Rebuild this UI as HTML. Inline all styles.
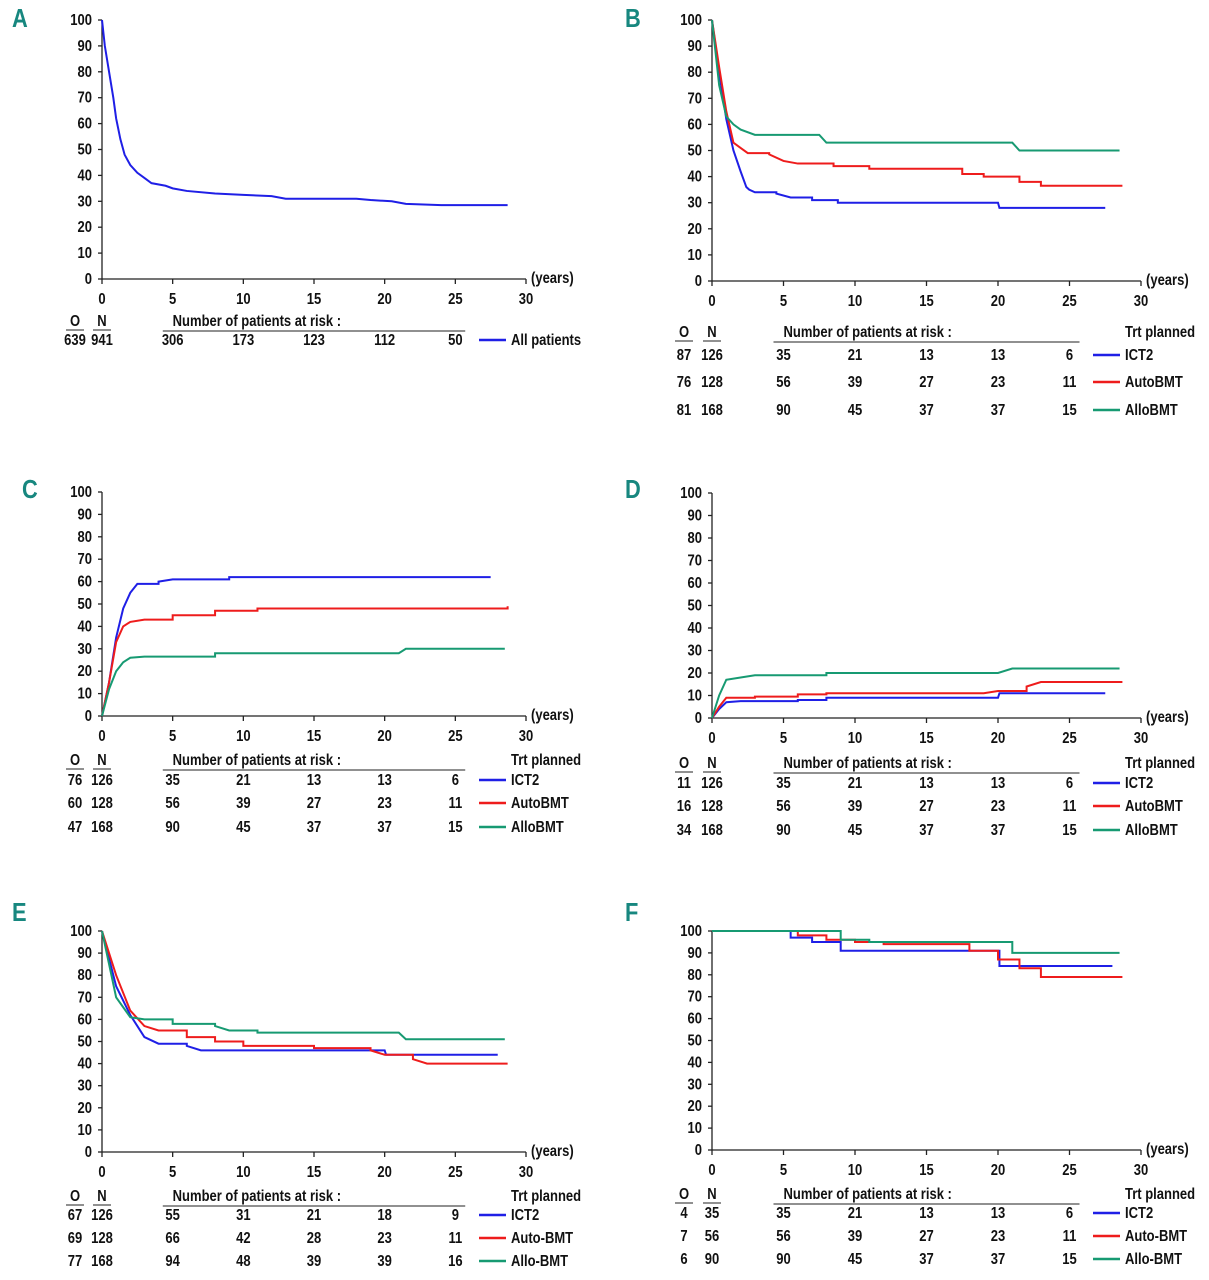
<!DOCTYPE html>
<html><head><meta charset="utf-8">
<style>
html,body{margin:0;padding:0;background:#fff;}
svg{display:block;font-family:"Liberation Sans Narrow","Liberation Sans",sans-serif;font-weight:bold;}
</style></head>
<body>
<svg id="fig" width="1209" height="1280" viewBox="0 0 1209 1280" xmlns="http://www.w3.org/2000/svg"></svg>
<script>
// ---- data ----
const xTicks = [0,5,10,15,20,25,30];
const yTicks = [0,10,20,30,40,50,60,70,80,90,100];
const riskYears = [5,10,15,20,25];
const groupNames = ["ICT2","AutoBMT","AlloBMT"];
const groupNamesE = ["ICT2","Auto-BMT","Allo-BMT"];

const seriesA_all = [[0,100],[0.2,90],[0.5,80],[0.8,70],[1,62],[1.3,54],[1.6,48],[2,44],[2.5,41],[3,39],[3.5,37],[4.5,36],[5,35],[6,34],[8,33],[10,32.5],[12,32],[13,31],[18,31],[19,30.5],[20.5,30],[21.5,29],[24,28.5],[28.7,28.5]];
const riskA = [306,173,123,112,50];
const oA = [639], nA = [941];

const seriesB_ict2 = [[0,100],[0.5,80],[1,62],[1.5,50],[2,42],[2.4,36],[2.6,35],[3,34],[4.5,33.5],[5.5,32],[7,31],[8.8,30],[20,30],[20.1,28],[27.5,28]];
const seriesB_auto = [[0,100],[0.5,82],[1,65],[1.5,53],[2,51],[2.5,49],[4,48.5],[5,46],[6,45],[8.5,44],[11,43],[17.5,41],[19,40],[21.5,38],[23,36.5],[28.7,36.5]];
const seriesB_allo = [[0,100],[0.5,75],[1,63],[1.5,60],[2,58],[3,56],[7.5,56],[8,53],[21,53],[21.5,50],[28.5,50]];
const riskB = [[35,21,13,13,6],[56,39,27,23,11],[90,45,37,37,15]];
const oB = [87,76,81], nB = [126,128,168];

const seriesC_ict2 = [[0,0],[0.5,15],[1,35],[1.5,48],[2,55],[2.5,59],[4,60],[5,61],[9,62],[27.5,62]];
const seriesC_auto = [[0,0],[0.5,15],[1,33],[1.5,40],[2,42],[3,43],[5,45],[8,47],[11,48],[28.7,49]];
const seriesC_allo = [[0,0],[0.5,12],[1,20],[1.5,24],[2,26],[3,26.5],[8,28],[21,28],[21.5,30],[28.5,30]];
const riskC = [[35,21,13,13,6],[56,39,27,23,11],[90,45,37,37,15]];
const oC = [76,60,47], nC = [126,128,168];

const seriesD_ict2 = [[0,0],[0.5,4],[1,7],[2,7.5],[6,8],[8,9],[20,9],[20.1,11],[27.5,11]];
const seriesD_auto = [[0,0],[0.5,5],[1,9],[3,9.5],[6,10.5],[8,11],[19,11],[20,12],[22,14],[23,16],[28.7,16]];
const seriesD_allo = [[0,0],[0.5,10],[1,17],[2,18],[3,19],[8,20],[20,20],[21,22],[28.5,22]];
const riskD = [[35,21,13,13,6],[56,39,27,23,11],[90,45,37,37,15]];
const oD = [11,16,34], nD = [126,128,168];

const seriesE_ict2 = [[0,100],[1,75],[2,62],[3,52],[4,49],[6,48],[7,46],[20,46],[20.1,44],[28,44]];
const seriesE_auto = [[0,100],[1,80],[2,64],[3,57],[4,55],[6,52],[8,50],[10,48],[15,47],[19,46],[20,44],[22,42],[23,40],[28.7,40]];
const seriesE_allo = [[0,100],[1,70],[2,61],[3,60],[5,58],[8,57],[9,55],[11,54],[21,54],[21.5,51],[28.5,51]];
const riskE = [[55,31,21,18,9],[66,42,28,23,11],[94,48,39,39,16]];
const oE = [67,69,77], nE = [126,128,168];

const seriesF_ict2 = [[0,100],[5.5,97],[7,95],[9,91],[20,91],[20.1,84],[28,84]];
const seriesF_auto = [[0,100],[6,98],[8,96],[10,95],[12,94],[18,91],[20,87],[21.5,83],[23,79],[28.7,79]];
const seriesF_allo = [[0,100],[8,100],[9,96],[11,95],[20,95],[21,90],[28.5,90]];
const riskF = [[35,21,13,13,6],[56,39,27,23,11],[90,45,37,37,15]];
const oF = [4,7,6], nF = [35,56,90];

const colors = ["#1f1fe6","#ee1c1c","#179a72"];
const NS = "http://www.w3.org/2000/svg";
const svg = document.getElementById("fig");

function mk(tag, attrs, parent){
  const e = document.createElementNS(NS, tag);
  for (const k in attrs) e.setAttribute(k, attrs[k]);
  (parent||svg).appendChild(e);
  return e;
}
function txt(parent, x, y, s, anchor, size, fill){
  const t = mk("text",{x:0,y:0,transform:"translate("+x+","+y+") scale(0.84,1)","text-anchor":anchor||"start","font-size":size||15.5,fill:fill||"#111"},parent);
  t.textContent = s;
  return t;
}

function panel(cfg){
  const g = mk("g",{});
  
  
  const sx = v => cfg.x0 + v * (cfg.x30 - cfg.x0) / 30;
  const sy = v => cfg.y0 - v * (cfg.y0 - cfg.ytop) / 100;
  const lt = txt(g, cfg.lx, cfg.ly, cfg.letter, "start", 26, "#17877f");
  
  
  const ax = mk("g",{stroke:"#222","stroke-width":1.3,fill:"none"},g);
  
  
  mk("line",{x1:cfg.x0,y1:sy(100),x2:cfg.x0,y2:cfg.y0},ax);
  mk("line",{x1:cfg.x0,y1:cfg.y0,x2:sx(30),y2:cfg.y0},ax);
  yTicks.forEach(v=>{
    mk("line",{x1:cfg.x0-4,y1:sy(v),x2:cfg.x0,y2:sy(v)},ax);
    const t = txt(g, cfg.x0-10, sy(v)+5, String(v), "end");
    
    
  });
  xTicks.forEach(v=>{
    mk("line",{x1:sx(v),y1:cfg.y0,x2:sx(v),y2:cfg.y0+5},ax);
    const t = txt(g, sx(v), cfg.y0+25, String(v), "middle");
    
    
  });
  const yl = txt(g, sx(30)+5, cfg.y0+4, "(years)", "start");
  
  
  cfg.series.forEach((s,i)=>{
    let d = "M" + sx(s[0][0]) + "," + sy(s[0][1]);
    for (let k=1;k<s.length;k++){
      const dt = s[k][0]-s[k-1][0];
      if (cfg.smooth || (!cfg.stepOnly && dt < 1.1)) d += " L" + sx(s[k][0]) + "," + sy(s[k][1]);
      else d += " H" + sx(s[k][0]) + " V" + sy(s[k][1]);
    }
    const p = mk("path",{d:d,fill:"none",stroke:cfg.colors[i],"stroke-width":2},g);
    
    
  });
  const hy = cfg.tableY;
  const oh = txt(g, cfg.oX, hy, "O", "middle");
  
  
  const nh = txt(g, cfg.x0, hy, "N", "middle");
  
  
  mk("line",{x1:cfg.oX-9,y1:hy+4,x2:cfg.oX+9,y2:hy+4,stroke:"#222","stroke-width":1},g);
  mk("line",{x1:cfg.x0-9,y1:hy+4,x2:cfg.x0+9,y2:hy+4,stroke:"#222","stroke-width":1},g);
  const rh = txt(g, sx(5), hy, "Number of patients at risk :", "start");
  
  
  mk("line",{x1:sx(4.3),y1:hy+5,x2:sx(25.7),y2:hy+5,stroke:"#222","stroke-width":1},g);
  if (cfg.legendTitle){
    const lt2 = txt(g, cfg.legX+32, hy, cfg.legendTitle, "start");
    
    
  }
  cfg.risk.forEach((row,i)=>{
    const ry = cfg.rowYs[i];
    const o = txt(g, cfg.oX, ry, String(cfg.o[i]), "middle");
    
    
    const n = txt(g, cfg.x0, ry, String(cfg.n[i]), "middle");
    
    
    row.forEach((v,j)=>{
      const t = txt(g, sx(riskYears[j]), ry, String(v), "middle");
      
      
    });
    const ll = mk("line",{x1:cfg.legX,y1:ry-5,x2:cfg.legX+27,y2:ry-5,stroke:cfg.colors[i],"stroke-width":2.5},g);
    
    
    const lx = txt(g, cfg.legX+32, ry, cfg.names[i], "start");
    
    
  });
}

panel({letter:"A",lx:12,ly:27,x0:102,y0:279,ytop:20,x30:526,smooth:true,series:[seriesA_all],colors:[colors[0]],names:["All patients"],risk:[riskA],o:oA,n:nA,oX:75,tableY:326,rowYs:[345],legX:479});
panel({letter:"B",lx:625,ly:27,x0:712,y0:281,ytop:20,x30:1141,series:[seriesB_ict2,seriesB_auto,seriesB_allo],colors:colors,names:groupNames,risk:riskB,o:oB,n:nB,oX:684,tableY:337,rowYs:[360,387,415],legX:1093,legendTitle:"Trt planned"});
panel({letter:"C",lx:22,ly:498,x0:102,y0:716,ytop:492,x30:526,series:[seriesC_ict2,seriesC_auto,seriesC_allo],colors:colors,names:groupNames,risk:riskC,o:oC,n:nC,oX:75,tableY:765,rowYs:[785,808,832],legX:479,legendTitle:"Trt planned"});
panel({letter:"D",lx:625,ly:498,x0:712,y0:718,ytop:493,x30:1141,series:[seriesD_ict2,seriesD_auto,seriesD_allo],colors:colors,names:groupNames,risk:riskD,o:oD,n:nD,oX:684,tableY:768,rowYs:[788,811,835],legX:1093,legendTitle:"Trt planned"});
panel({letter:"E",lx:12,ly:921,x0:102,y0:1152,ytop:931,x30:526,series:[seriesE_ict2,seriesE_auto,seriesE_allo],colors:colors,names:groupNamesE,risk:riskE,o:oE,n:nE,oX:75,tableY:1201,rowYs:[1220,1243,1266],legX:479,legendTitle:"Trt planned"});
panel({letter:"F",lx:625,ly:921,x0:712,y0:1150,ytop:931,x30:1141,stepOnly:true,series:[seriesF_ict2,seriesF_auto,seriesF_allo],colors:colors,names:groupNamesE,risk:riskF,o:oF,n:nF,oX:684,tableY:1199,rowYs:[1218,1241,1264],legX:1093,legendTitle:"Trt planned"});
</script>
</body></html>
